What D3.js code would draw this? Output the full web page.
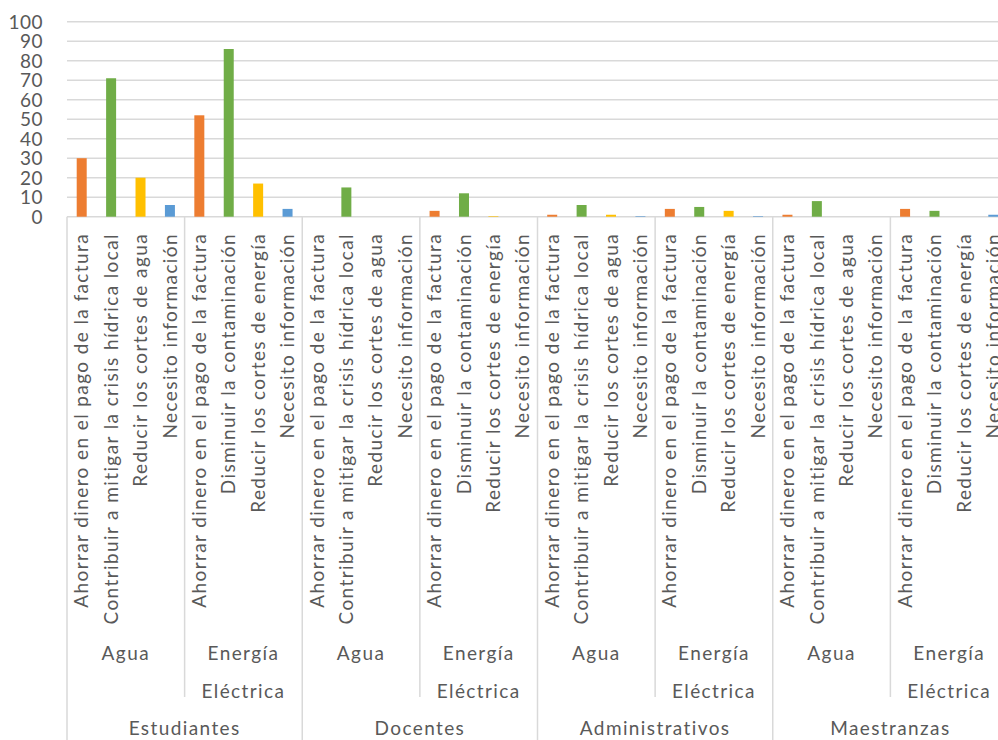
<!DOCTYPE html>
<html>
<head>
<meta charset="utf-8">
<script src="https://cdn.jsdelivr.net/npm/d3@7"></script>
<style>
  html, body { margin: 0; padding: 0; background: #fff; overflow: hidden; }
  svg text { font-family: Lato, "Open Sans", sans-serif; fill: #595959; }
</style>
</head>
<body>
<svg id="chart" width="998" height="740"></svg>
<script>
// Motivations for saving water / electricity, by university group
const groups = ["Estudiantes", "Docentes", "Administrativos", "Maestranzas"];
const subgroupNames = ["Agua", "Energía Eléctrica"];
const itemsAgua = [
  "Ahorrar dinero en el pago de la factura",
  "Contribuir a mitigar la crisis hídrica local",
  "Reducir los cortes de agua",
  "Necesito información"
];
const itemsEnergia = [
  "Ahorrar dinero en el pago de la factura",
  "Disminuir la contaminación",
  "Reducir los cortes de energía",
  "Necesito información"
];
// values per group: Agua items (4) then Energía Eléctrica items (4)
const estudiantes     = [30, 71, 20, 6, 52, 86, 17, 4];
const docentes        = [0, 15, 0, 0, 3, 12, 0.3, 0];
const administrativos = [1, 6, 1, 0.3, 4, 5, 3, 0.3];
const maestranzas     = [1, 8, 0, 0, 4, 3, 0, 1];
const yTicks = [0, 10, 20, 30, 40, 50, 60, 70, 80, 90, 100];
const itemColors = ["#ED7D31", "#70AD47", "#FFC000", "#5B9BD5"];

const groupValues = [estudiantes, docentes, administrativos, maestranzas];

// flatten into leaf categories
const leaves = [];
groups.forEach((g, gi) => {
  subgroupNames.forEach((s, si) => {
    const items = si === 0 ? itemsAgua : itemsEnergia;
    items.forEach((it, ii) => {
      leaves.push({
        id: `${gi}-${si}-${ii}`,
        group: g, gi, sub: s, si, item: it, ii,
        value: groupValues[gi][si * 4 + ii]
      });
    });
  });
});

const svg = d3.select("#chart");
const plotLeft = 67, plotRight = 1008, plotTop = 21.7, plotBottom = 216.7;

const x = d3.scaleBand().domain(leaves.map(d => d.id)).range([plotLeft, plotRight]).padding(0);
const y = d3.scaleLinear().domain([0, 100]).range([plotBottom, plotTop]);
const bw = x.bandwidth();

// gridlines
svg.append("g").selectAll("line").data(yTicks).join("line")
  .attr("x1", plotLeft).attr("x2", 998)
  .attr("y1", d => y(d)).attr("y2", d => y(d))
  .attr("stroke", "#d9d9d9").attr("stroke-width", 1.5);

// y axis labels
const yAxis = d3.axisLeft(y).tickValues(yTicks).tickSize(0).tickPadding(0);
const ya = svg.append("g").attr("transform", "translate(43,0)").call(yAxis);
ya.select(".domain").remove();
ya.selectAll("text").attr("font-size", 19).attr("letter-spacing", 0.5)
  .attr("fill", "#595959")
  .style("font-family", "Lato, sans-serif").attr("dy", "0.35em");

// bars
const barW = bw * 0.34;
svg.append("g").selectAll("rect").data(leaves).join("rect")
  .attr("x", d => x(d.id) + (bw - barW) / 2)
  .attr("width", barW)
  .attr("y", d => y(d.value))
  .attr("height", d => y(0) - y(d.value))
  .attr("fill", d => itemColors[d.ii]);

// category separators
const sep = svg.append("g").attr("stroke", "#d9d9d9").attr("stroke-width", 1.5);
for (let k = 0; k <= leaves.length; k += 4) {
  const xx = k < leaves.length ? x(leaves[k].id) : plotRight;
  const isGroup = k % 8 === 0;
  sep.append("line")
    .attr("x1", xx).attr("x2", xx)
    .attr("y1", plotBottom).attr("y2", isGroup ? 740 : 697);
}

// rotated item labels
svg.append("g").selectAll("text").data(leaves).join("text")
  .attr("transform", d => `translate(${x(d.id) + bw / 2},233) rotate(-90)`)
  .attr("text-anchor", "end")
  .attr("dy", "0.35em")
  .attr("font-size", 19)
  .attr("letter-spacing", 1.4)
  .text(d => d.item);

// subgroup labels
const subData = [];
groups.forEach((g, gi) => subgroupNames.forEach((s, si) => {
  const first = leaves[gi * 8 + si * 4];
  const last = leaves[gi * 8 + si * 4 + 3];
  subData.push({ lines: si === 0 ? ["Agua"] : ["Energía", "Eléctrica"],
    cx: (x(first.id) + x(last.id) + bw) / 2 });
}));
const sg = svg.append("g").selectAll("text").data(subData).join("text")
  .attr("text-anchor", "middle")
  .attr("font-size", 19)
  .attr("letter-spacing", 1.4);
sg.selectAll("tspan").data(d => d.lines.map(l => ({ l, cx: d.cx }))).join("tspan")
  .attr("x", d => d.cx)
  .attr("y", (d, i) => 660 + i * 38)
  .text(d => d.l);

// group labels
svg.append("g").selectAll("text").data(groups).join("text")
  .attr("x", (d, gi) => (x(leaves[gi * 8].id) + x(leaves[gi * 8 + 7].id) + bw) / 2)
  .attr("y", 735)
  .attr("text-anchor", "middle")
  .attr("font-size", 19)
  .attr("letter-spacing", 1.4)
  .text(d => d);
</script>
</body>
</html>
